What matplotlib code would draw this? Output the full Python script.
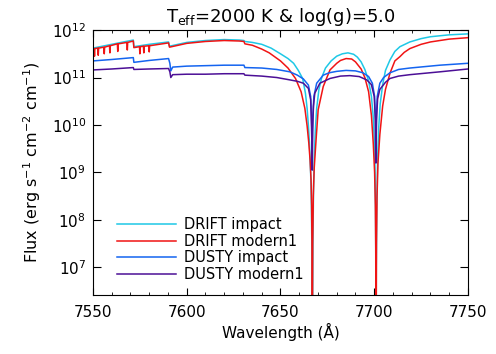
import numpy as np
import matplotlib
matplotlib.use('Agg')
import matplotlib.pyplot as plt
from matplotlib.ticker import MultipleLocator, LogLocator, NullLocator

# wavelengths (Angstrom) and log10 flux
drift_impact_wl = [7550, 7555, 7560, 7565, 7571.5, 7571.8, 7580, 7590.3, 7590.8,
                   7600, 7610, 7620, 7628, 7630.5, 7631, 7635, 7640, 7645, 7650,
                   7654, 7657, 7659.5, 7661.8, 7663.3, 7664.2, 7664.9, 7665.4,
                   7665.8, 7666.2, 7666.5, 7666.8, 7666.9, 7667.0, 7667.3, 7667.6,
                   7668.0, 7668.6, 7669.3, 7670.5, 7672, 7674, 7677, 7680, 7683,
                   7686, 7689, 7691, 7693, 7695, 7697, 7698.5, 7699.4, 7700.0,
                   7700.4, 7700.7, 7700.85, 7700.9, 7701.0, 7701.1, 7701.4, 7701.8,
                   7702.4, 7703.2, 7704.5, 7706, 7708.4, 7711, 7713.7, 7719, 7725,
                   7730, 7740, 7750]
drift_impact_logf = [11.62, 11.66, 11.70, 11.74, 11.79, 11.65, 11.70, 11.75, 11.66,
                     11.74, 11.78, 11.80, 11.79, 11.78, 11.76, 11.74, 11.70, 11.62, 11.50,
                     11.40, 11.30, 11.15, 10.98, 10.67, 10.35, 9.98, 9.65,
                     9.28, 8.85, 8.30, 7.20, 5.0, 5.0, 7.5, 8.6,
                     9.3, 9.9, 10.35, 10.75, 11.00, 11.20, 11.35, 11.45, 11.50,
                     11.52, 11.49, 11.43, 11.33, 11.17, 10.93, 10.60, 10.20, 9.70,
                     9.10, 8.20, 7.00, 5.0, 5.0, 7.0, 8.4, 9.3,
                     9.95, 10.45, 10.85, 11.15, 11.37, 11.55, 11.65, 11.75, 11.82,
                     11.86, 11.90, 11.92]

drift_modern_wl = [7550, 7550.6, 7550.8, 7551.0, 7552.6, 7552.8, 7553.0, 7555.8, 7556.0,
                   7556.2, 7558.8, 7559.0, 7559.2, 7563.0, 7563.2, 7563.4, 7565,
                   7568.1, 7568.3, 7568.5, 7571.5, 7571.8, 7574.8, 7575.0, 7575.2,
                   7576.9, 7577.1, 7577.3, 7579.8, 7580.0, 7580.2, 7590.3, 7590.8,
                   7600, 7610, 7620, 7628, 7630.5, 7631, 7635, 7640, 7644, 7650,
                   7654, 7658, 7661, 7663, 7664.2, 7665.1, 7665.8, 7666.3, 7666.6,
                   7666.8, 7666.9, 7667.0, 7667.2, 7667.5, 7668, 7669, 7670.1,
                   7672.8, 7676.4, 7680, 7682, 7685, 7688, 7690, 7693, 7695, 7697,
                   7698.5, 7699.5, 7700.2, 7700.6, 7700.8, 7700.9, 7701.0, 7701.2,
                   7701.5, 7702, 7703, 7704.5, 7706, 7708.4, 7711, 7713.7, 7716,
                   7719, 7725, 7730, 7740, 7750]
drift_modern_logf = [11.60, 11.61, 11.45, 11.61, 11.62, 11.47, 11.62, 11.64, 11.50,
                     11.64, 11.67, 11.52, 11.67, 11.71, 11.55, 11.71, 11.72,
                     11.74, 11.58, 11.74, 11.77, 11.63, 11.65, 11.50, 11.65,
                     11.66, 11.52, 11.66, 11.67, 11.54, 11.67, 11.73, 11.64,
                     11.72, 11.76, 11.78, 11.77, 11.76, 11.71, 11.68, 11.60, 11.52, 11.35,
                     11.20, 10.98, 10.70, 10.35, 9.98, 9.62, 9.25, 8.85, 8.30,
                     7.40, 5.0, 5.0, 7.5, 8.5, 9.1, 9.7, 10.32,
                     10.81, 11.16, 11.30, 11.36, 11.40, 11.39, 11.33, 11.18, 11.00, 10.70,
                     10.20, 9.60, 9.00, 8.30, 7.40, 5.0, 5.0, 7.5,
                     8.5, 9.2, 9.8, 10.4, 10.75, 11.09, 11.35, 11.44, 11.53,
                     11.61, 11.70, 11.75, 11.81, 11.84]

dusty_impact_wl = [7550, 7560, 7571.5, 7571.8, 7580, 7590.3, 7591, 7591.5, 7592.5,
                   7600, 7610, 7620, 7630.5, 7631, 7640, 7648, 7655, 7659, 7662.2,
                   7664.9, 7666.1, 7666.5, 7666.8, 7666.9, 7667.0, 7667.3, 7667.8,
                   7669.3, 7672.8, 7676, 7680, 7685, 7690, 7694, 7697, 7699, 7700.2,
                   7700.6, 7700.8, 7700.9, 7701.0, 7701.2, 7701.6, 7703, 7705,
                   7708.4, 7713, 7719, 7735, 7750]
dusty_impact_logf = [11.35, 11.38, 11.42, 11.32, 11.36, 11.40, 11.30, 11.14, 11.22,
                     11.24, 11.25, 11.26, 11.26, 11.21, 11.20, 11.17, 11.12, 11.05, 10.97,
                     10.84, 10.60, 10.20, 9.40, 9.05, 9.40, 10.20, 10.60,
                     10.88, 11.05, 11.10, 11.13, 11.15, 11.14, 11.10, 11.02, 10.88, 10.60,
                     10.20, 9.60, 9.20, 9.60, 10.20, 10.60, 10.88, 11.00,
                     11.10, 11.17, 11.20, 11.26, 11.30]

dusty_modern_wl = [7550, 7560, 7571.5, 7571.8, 7580, 7590.3, 7591, 7591.5, 7592.5,
                   7600, 7610, 7620, 7630.5, 7631, 7640, 7648, 7655, 7659, 7662.2,
                   7664.9, 7666.1, 7666.6, 7666.9, 7667.1, 7667.6, 7668.3, 7671,
                   7676.4, 7682, 7687, 7692, 7696, 7698.5, 7700.0, 7700.6, 7700.9,
                   7701.2, 7701.8, 7703, 7706, 7708.4, 7713, 7719, 7735, 7750]
dusty_modern_logf = [11.16, 11.18, 11.21, 11.17, 11.18, 11.19, 11.12, 11.00, 11.06,
                     11.07, 11.07, 11.08, 11.08, 11.05, 11.03, 11.00, 10.95, 10.92, 10.88,
                     10.77, 10.53, 9.96, 9.05, 9.90, 10.40, 10.67, 10.88,
                     10.98, 11.03, 11.04, 11.02, 10.95, 10.85, 10.60, 10.10, 9.20,
                     10.10, 10.55, 10.75, 10.90, 10.98, 11.03, 11.06, 11.12, 11.18]

labels = ['DRIFT impact', 'DRIFT modern1', 'DUSTY impact', 'DUSTY modern1']
colors = ['#1ec8e6', '#f01414', '#1464f0', '#4c0f96']

fig = plt.figure(figsize=(4.96, 3.54), dpi=100)
ax = fig.add_axes([0.1875, 0.1667, 0.756, 0.7483])

series = [(drift_impact_wl, drift_impact_logf),
          (drift_modern_wl, drift_modern_logf),
          (dusty_impact_wl, dusty_impact_logf),
          (dusty_modern_wl, dusty_modern_logf)]
for (wl, lf), lab, col in zip(series, labels, colors):
    ax.plot(wl, 10 ** np.array(lf), color=col, lw=1.1, label=lab)

ax.set_yscale('log')
ax.set_xlim(7550, 7750)
ax.set_ylim(2.6e6, 1e12)
ax.xaxis.set_major_locator(MultipleLocator(50))
ax.xaxis.set_minor_locator(MultipleLocator(10))
ax.yaxis.set_major_locator(LogLocator(base=10, numticks=20))
ax.yaxis.set_minor_locator(NullLocator())
ax.tick_params(which='both', direction='in', top=True, right=True, labelsize=11)
ax.tick_params(axis='x', which='major', length=5, pad=7)
ax.tick_params(axis='y', which='major', length=6, pad=5)
ax.tick_params(which='minor', length=2.5)

ax.set_xlabel('Wavelength (Å)', fontsize=11, labelpad=2)
ax.set_ylabel('Flux (erg s$^{-1}$ cm$^{-2}$ cm$^{-1}$)', fontsize=11.5, labelpad=6)
ax.set_title('T$_{\\rm eff}$=2000 K & log(g)=5.0', fontsize=13, pad=6)

ax.legend(loc='lower left', bbox_to_anchor=(0.03, 0.0), frameon=False,
          handlelength=4.0, handletextpad=0.6, labelspacing=0.1, fontsize=10.5)

fig.savefig('out.png', dpi=100)
